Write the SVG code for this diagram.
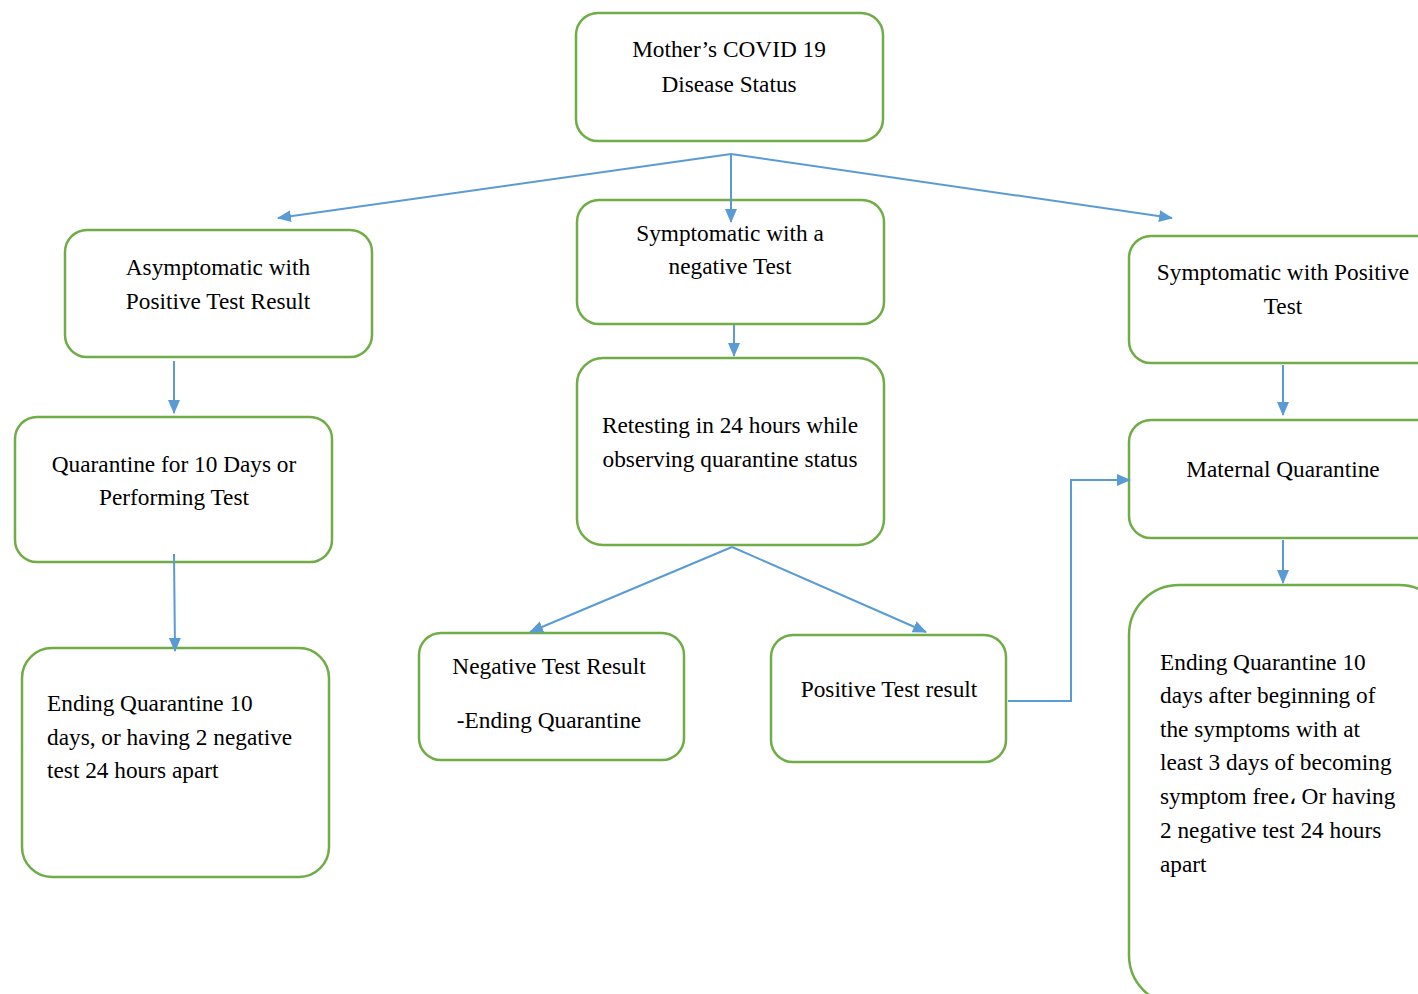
<svg xmlns="http://www.w3.org/2000/svg" width="1418" height="994" viewBox="0 0 1418 994">
<style>
.box{fill:#fff;stroke:#70AD47;stroke-width:2.5}
.t{font-family:'Liberation Serif','Times New Roman',serif;font-size:23.3px;fill:#000}
.c{text-anchor:middle}
.ln{fill:none;stroke:#5B9BD5;stroke-width:2;marker-end:url(#ah)}
</style>
<defs>
<marker id="ah" viewBox="0 0 14 12" refX="13" refY="6" markerWidth="14" markerHeight="12" markerUnits="userSpaceOnUse" orient="auto">
<path d="M0,0 L14,6 L0,12 Z" fill="#5B9BD5"/>
</marker>
</defs>
<rect width="1418" height="994" fill="#fff"/>
<g id="n-mother">
<rect class="box" x="576" y="13" width="307" height="128" rx="22"/>
<text class="t c" x="729" y="57">Mother’s COVID 19</text>
<text class="t c" x="729" y="92">Disease Status</text>
</g>
<g id="n-asym">
<rect class="box" x="65" y="230" width="307" height="127" rx="22"/>
<text class="t c" x="218" y="275">Asymptomatic with</text>
<text class="t c" x="218" y="309">Positive Test Result</text>
</g>
<g id="n-symneg">
<rect class="box" x="577" y="200" width="307" height="124" rx="22"/>
<text class="t c" x="730" y="241">Symptomatic with a</text>
<text class="t c" x="730" y="274">negative Test</text>
</g>
<g id="n-sympos">
<rect class="box" x="1129" y="236" width="310" height="127" rx="22"/>
<text class="t c" x="1283" y="280">Symptomatic with Positive</text>
<text class="t c" x="1283" y="314">Test</text>
</g>
<g id="n-quar10">
<rect class="box" x="15" y="417" width="317" height="145" rx="22"/>
<text class="t c" x="174" y="472">Quarantine for 10 Days or</text>
<text class="t c" x="174" y="505">Performing Test</text>
</g>
<g id="n-retest">
<rect class="box" x="577" y="358" width="307" height="187" rx="26"/>
<text class="t c" x="730" y="433">Retesting in 24 hours while</text>
<text class="t c" x="730" y="467">observing quarantine status</text>
</g>
<g id="n-maternal">
<rect class="box" x="1129" y="420" width="310" height="118" rx="22"/>
<text class="t c" x="1283" y="477">Maternal Quarantine</text>
</g>
<g id="n-endleft">
<rect class="box" x="22" y="648" width="307" height="229" rx="30"/>
<text class="t" x="47" y="711">Ending Quarantine 10</text>
<text class="t" x="47" y="745">days, or having 2 negative</text>
<text class="t" x="47" y="778">test 24 hours apart</text>
</g>
<g id="n-negres">
<rect class="box" x="419" y="633" width="265" height="127" rx="22"/>
<text class="t c" x="549" y="674">Negative Test Result</text>
<text class="t c" x="549" y="728">-Ending Quarantine</text>
</g>
<g id="n-posres">
<rect class="box" x="771" y="635" width="235" height="127" rx="22"/>
<text class="t c" x="889" y="697">Positive Test result</text>
</g>
<g id="n-endright">
<rect class="box" x="1129" y="585" width="320" height="420" rx="50"/>
<text class="t" x="1160" y="670">Ending Quarantine 10</text>
<text class="t" x="1160" y="703">days after beginning of</text>
<text class="t" x="1160" y="737">the symptoms with at</text>
<text class="t" x="1160" y="770">least 3 days of becoming</text>
<text class="t" x="1160" y="804">symptom free، Or having</text>
<text class="t" x="1160" y="838">2 negative test 24 hours</text>
<text class="t" x="1160" y="872">apart</text>
</g>
<g id="connectors">
<path class="ln" d="M731,154 L278,218"/>
<path class="ln" d="M731,154 L731,222"/>
<path class="ln" d="M731,154 L1172,218"/>
<path class="ln" d="M174,361 L174,413"/>
<path class="ln" d="M174,554 L175,651"/>
<path class="ln" d="M734,325 L734,356"/>
<path class="ln" d="M732,547 L530,632"/>
<path class="ln" d="M732,547 L926,632"/>
<path class="ln" d="M1008,701 L1071,701 L1071,480 L1130,480"/>
<path class="ln" d="M1283,365 L1283,415"/>
<path class="ln" d="M1283,540 L1283,583"/>
</g>
</svg>
